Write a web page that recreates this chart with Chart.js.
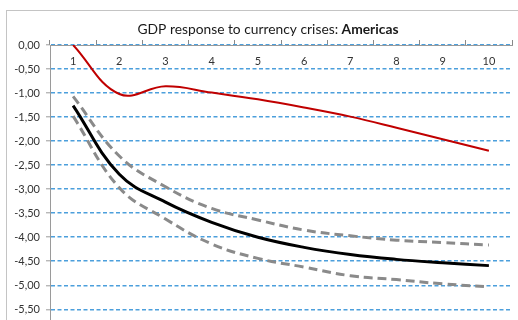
<!DOCTYPE html>
<html>
<head>
<meta charset="utf-8">
<script src="https://cdn.jsdelivr.net/npm/chart.js@4/dist/chart.umd.min.js"></script>
<style>
  html, body { margin: 0; padding: 0; background: #fff; overflow: hidden; }
  #wrap { width: 518px; height: 320px; overflow: hidden; }
</style>
</head>
<body>
<div id="wrap"><canvas id="myChart" width="518" height="346"></canvas></div>
<script>
// years after the crisis
const years = ["1", "2", "3", "4", "5", "6", "7", "8", "9", "10"];

// GDP response (%)
const allCrises = [0.00, -1.02, -0.86, -0.99, -1.13, -1.30, -1.49, -1.72, -1.96, -2.20];
const americas = [-1.26, -2.69, -3.27, -3.69, -4.00, -4.21, -4.36, -4.46, -4.53, -4.59];
const upperBand = [-1.07, -2.31, -2.95, -3.40, -3.64, -3.85, -3.97, -4.06, -4.11, -4.16];
const lowerBand = [-1.48, -2.97, -3.62, -4.14, -4.44, -4.62, -4.80, -4.88, -4.97, -5.03];

const fontFamily = "Lato, 'Open Sans', sans-serif";

// frame + two-weight title drawn on the canvas
const framePlugin = {
  id: "frame",
  beforeDraw(chart) {
    const c = chart.ctx;
    c.save();
    c.fillStyle = "#fff";
    c.fillRect(0, 0, chart.width, chart.height);
    c.strokeStyle = "#c4c4c4";
    c.lineWidth = 1;
    c.strokeRect(6.5, 10.5, 700, 700);
    c.restore();
  },
  afterDraw(chart) {
    const c = chart.ctx;
    const part1 = "GDP response to currency crises: ";
    const part2 = "Americas";
    c.save();
    c.textBaseline = "middle";
    c.fillStyle = "#1a1a1a";
    c.font = "13.8px " + fontFamily;
    const w1 = c.measureText(part1).width;
    c.font = "bold 13.8px " + fontFamily;
    const w2 = c.measureText(part2).width;
    const x0 = 268 - (w1 + w2) / 2;
    c.font = "13.8px " + fontFamily;
    c.fillText(part1, x0, 30);
    c.font = "bold 13.8px " + fontFamily;
    c.fillText(part2, x0 + w1, 30);
    c.restore();
  }
};

const ctx = document.getElementById("myChart");
new Chart(ctx, {
  type: "line",
  data: {
    labels: years,
    datasets: [
      {
        label: "Americas",
        data: americas,
        borderColor: "#000",
        borderWidth: 3,
        pointRadius: 0,
        tension: 0.4,
        fill: false
      },
      {
        label: "All crises",
        data: allCrises,
        borderColor: "#c00000",
        borderWidth: 2,
        pointRadius: 0,
        tension: 0.4,
        fill: false
      },
      {
        label: "Upper",
        data: upperBand,
        borderColor: "#8a8a8a",
        borderWidth: 3,
        borderDash: [9, 5],
        pointRadius: 0,
        tension: 0.4,
        fill: false
      },
      {
        label: "Lower",
        data: lowerBand,
        borderColor: "#8a8a8a",
        borderWidth: 3,
        borderDash: [9, 5],
        pointRadius: 0,
        tension: 0.4,
        fill: false
      }
    ]
  },
  options: {
    responsive: false,
    animation: false,
    layout: { padding: { top: 39, right: 6, bottom: 10, left: 0 } },
    plugins: {
      legend: { display: false },
      title: { display: false },
      tooltip: { enabled: false }
    },
    scales: {
      x: {
        position: "top",
        offset: true,
        grid: {
          offset: true,
          drawOnChartArea: false,
          drawTicks: true,
          tickLength: 5,
          color: "#888",
          tickColor: "#888"
        },
        border: { color: "#9a9a9a", width: 1 },
        ticks: {
          // labels sit just under the axis line, inside the plot
          mirror: true,
          padding: 10,
          color: "#333",
          font: { family: fontFamily, size: 11 }
        },
        afterFit(scale) { scale.height = 6; }
      },
      y: {
        min: -6,
        max: 0,
        grid: {
          color: "#4c9fdc",
          lineWidth: 1.6,
          tickLength: 4,
          tickColor: "#9a9a9a",
          tickWidth: 1
        },
        border: { color: "#9a9a9a", width: 1, dash: [4, 2.5] },
        ticks: {
          stepSize: 0.5,
          padding: 6,
          color: "#333",
          font: { family: fontFamily, size: 11 },
          callback: (v) => v.toFixed(2).replace(".", ",")
        },
        afterFit(scale) { scale.width = 50; }
      }
    }
  },
  plugins: [framePlugin]
});
</script>
</body>
</html>
